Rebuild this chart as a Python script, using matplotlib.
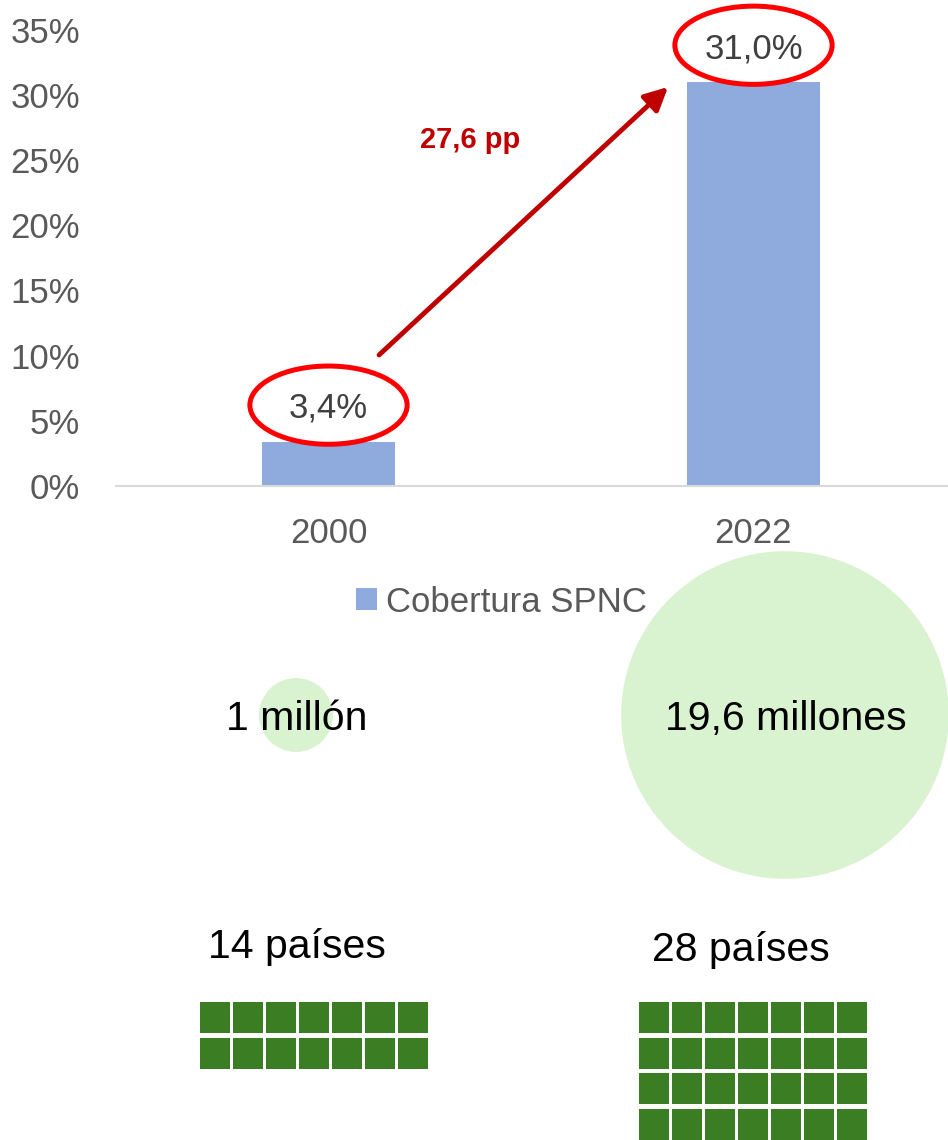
import matplotlib
matplotlib.use("Agg")
import matplotlib.pyplot as plt
from matplotlib.patches import Ellipse, Rectangle

years = ["2000", "2022"]
coverage = [0.034, 0.31]
coverage_labels = ["3,4%", "31,0%"]
change_label = "27,6 pp"
people = [1, 19.6]
people_labels = ["1 millón", "19,6 millones"]
countries = [14, 28]
country_labels = ["14 países", "28 países"]
yticks = [0, 0.05, 0.10, 0.15, 0.20, 0.25, 0.30, 0.35]
ytick_labels = ["0%", "5%", "10%", "15%", "20%", "25%", "30%", "35%"]

plt.rcParams["font.family"] = ["Liberation Sans", "DejaVu Sans"]

fig = plt.figure(figsize=(9.48, 11.4), dpi=100)

# lower panel, pixel-like units (y grows downward)
ax2 = fig.add_axes([0, 0, 1, 1], zorder=0)
ax2.set_xlim(0, 948)
ax2.set_ylim(1140, 0)
ax2.axis("off")

# bar chart
ax = fig.add_axes([116 / 948, 654 / 1140, 850 / 948, 456.4 / 1140], zorder=1)
ax.patch.set_alpha(0)
x = list(range(len(years)))
ax.bar(x, coverage, width=0.315, color="#8FAADC", label="Cobertura SPNC")
ax.set_xlim(-0.5, 1.5)
ax.set_ylim(0, 0.35)
ax.set_yticks(yticks)
ax.set_yticklabels(ytick_labels)
ax.set_xticks(x)
ax.set_xticklabels(years)
ax.tick_params(length=0, labelsize=25, colors="#595959")
ax.tick_params(axis="y", pad=26)
ax.tick_params(axis="x", pad=22)
for s in ["top", "right", "left"]:
    ax.spines[s].set_visible(False)
ax.spines["bottom"].set_color("#D9D9D9")
ax.spines["bottom"].set_linewidth(1.5)

for i, v in enumerate(coverage):
    ax.text(i, v + 0.0255, coverage_labels[i], ha="center", va="center",
            fontsize=25, color="#404040", clip_on=False)
    ax.add_patch(Ellipse((i, v + 0.028), width=0.37, height=0.06, fill=False,
                         ec="#FF0000", lw=3.6, clip_on=False))

ax.annotate("", xy=(0.799, coverage[1] - 0.004), xytext=(0.119, coverage[0] + 0.0665),
            arrowprops=dict(arrowstyle="-|>,head_length=0.5,head_width=0.25",
                            color="#C00000", lw=3.5,
                            mutation_scale=28, shrinkA=0, shrinkB=0))
ax.text(0.333, 0.265, change_label, ha="center", va="center", fontsize=21,
        fontweight="bold", color="#C00000")

ax.legend(loc="center", bbox_to_anchor=(501.5 / 948, 1 - 602 / 1140),
          bbox_transform=fig.transFigure, frameon=False, fontsize=25,
          handlelength=0.58, handleheight=0.58, handletextpad=0.26,
          labelcolor="#595959", borderpad=0)

# bubbles: area proportional to people covered
bubble_x = [296, 785]
ax2.scatter(bubble_x, [715, 715], s=[2839 * p for p in people],
            color="#D9F2D0", linewidths=0)
ax2.text(297, 730, people_labels[0], ha="center", va="baseline", fontsize=29.5, color="black")
ax2.text(786, 730, people_labels[1], ha="center", va="baseline", fontsize=29.5, color="black")

# waffle: one square per country
ax2.text(297, 958, country_labels[0], ha="center", va="baseline", fontsize=29.5, color="black")
ax2.text(741, 961, country_labels[1], ha="center", va="baseline", fontsize=29.5, color="black")
group_x = [200, 639]
for g, n in enumerate(countries):
    for k in range(n):
        r, c = divmod(k, 7)
        ax2.add_patch(Rectangle((group_x[g] + c * 33, 1002 + r * 35.6), 30.5, 31,
                                color="#3B7D23", lw=0))

fig.savefig("out.png", dpi=100)
